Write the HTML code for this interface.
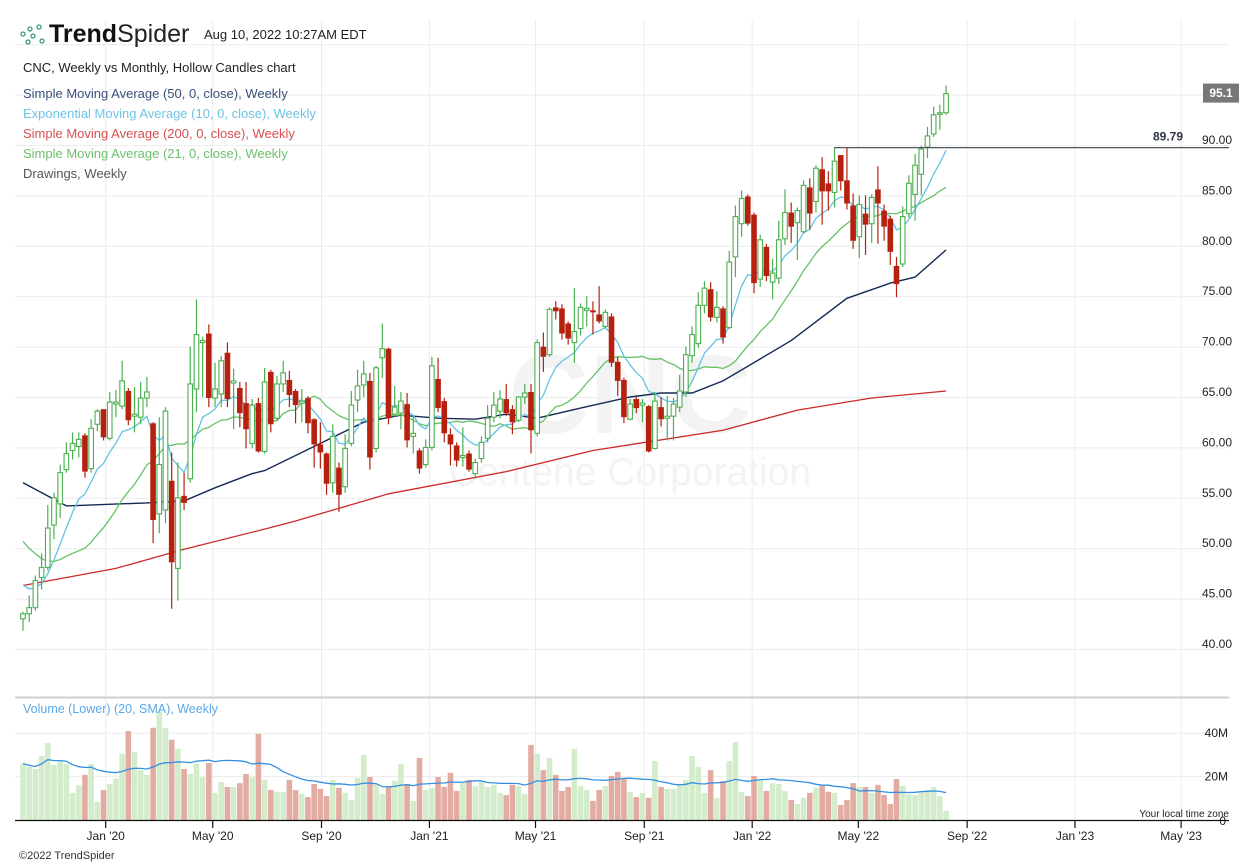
<!DOCTYPE html>
<html><head><meta charset="utf-8"><style>
html,body{margin:0;padding:0;background:#fff;}
body{width:1259px;height:866px;position:relative;overflow:hidden;font-family:"Liberation Sans","DejaVu Sans",sans-serif;}
.abs{position:absolute;white-space:nowrap;}
.leg{font-size:13px;left:23px;}
</style></head><body>
<svg id="chart" width="1259" height="866" style="position:absolute;left:0;top:0" xmlns="http://www.w3.org/2000/svg"></svg>

<div class="abs" style="left:19px;top:22px;height:26px;">
  <svg width="30" height="26"><g fill="none" stroke="#3a9a7a" stroke-width="1.3"><circle cx="4" cy="12" r="2"/><circle cx="11" cy="7" r="2"/><circle cx="14" cy="14" r="2"/><circle cx="9" cy="20" r="2"/><circle cx="20" cy="5" r="2"/><circle cx="23" cy="19" r="2"/></g></svg>
  <span style="position:absolute;left:30px;top:-2px;font-size:25px;color:#111;"><b>Trend</b><span style="font-weight:300;color:#222">Spider</span></span>
</div>
<div class="abs" style="left:204px;top:27px;font-size:13px;color:#222;">Aug 10, 2022 10:27AM EDT</div>
<div class="abs leg" style="top:60px;color:#222;">CNC, Weekly vs Monthly, Hollow Candles chart</div>
<div class="abs leg" style="top:86px;color:#3b5079;">Simple Moving Average (50, 0, close), Weekly</div>
<div class="abs leg" style="top:106px;color:#6cc4e4;">Exponential Moving Average (10, 0, close), Weekly</div>
<div class="abs leg" style="top:126px;color:#d55050;">Simple Moving Average (200, 0, close), Weekly</div>
<div class="abs leg" style="top:146px;color:#6cc06c;">Simple Moving Average (21, 0, close), Weekly</div>
<div class="abs leg" style="top:166px;color:#555;">Drawings, Weekly</div>
<div class="abs" style="left:23px;top:702px;font-size:12.5px;color:#5aa8e8;">Volume (Lower) (20, SMA), Weekly</div>
<div class="abs" style="left:19px;top:850px;font-size:11px;color:#333;">©2022 TrendSpider</div>

<script>
const openP=[42.5,43.0,43.6,46.6,47.6,51.8,53.9,57.3,59.2,59.6,60.7,57.4,61.8,63.3,60.4,63.8,63.6,65.1,62.6,62.5,64.4,61.9,52.9,53.3,56.2,47.5,54.7,56.4,65.3,69.9,70.8,64.4,64.8,68.9,65.9,65.4,63.9,59.9,63.9,59.1,67.0,62.4,65.8,66.2,65.1,63.9,64.4,62.3,59.8,58.9,56.0,57.5,55.6,59.9,64.2,65.7,66.1,59.4,68.4,69.3,62.8,62.9,63.8,60.6,59.2,57.8,59.5,66.3,64.1,60.8,59.7,58.5,58.9,56.9,58.4,60.4,62.5,63.1,64.3,63.3,62.2,64.5,65.0,60.9,69.5,68.7,73.4,73.3,71.8,69.9,71.3,73.1,73.1,72.7,71.5,72.5,68.0,66.2,62.3,64.3,63.7,63.6,59.4,63.5,62.4,62.6,63.5,65.0,68.6,69.8,73.6,75.2,72.4,73.3,71.4,78.4,81.7,84.4,82.6,76.2,79.4,75.9,76.3,80.2,82.8,81.8,80.9,85.3,83.9,87.1,85.7,84.8,88.5,86.0,83.5,80.4,82.7,81.7,85.1,83.0,82.2,77.5,77.7,82.7,84.6,86.6,89.3,90.6,92.6,92.7];
const closeP=[43.0,43.6,46.3,47.6,51.5,54.5,57.0,58.9,59.9,60.3,57.1,61.4,63.1,60.5,64.0,64.0,66.1,62.2,62.8,64.4,65.0,52.3,57.8,63.1,48.1,54.5,54.0,65.8,70.7,70.1,64.4,65.3,68.1,64.3,66.1,62.9,61.3,63.7,59.1,66.0,61.8,65.8,66.9,64.7,63.7,64.1,61.9,59.8,59.0,55.9,60.6,54.8,59.4,63.7,65.6,66.8,58.5,67.4,69.3,62.4,63.5,64.1,60.2,60.9,57.4,59.5,67.6,63.4,60.9,59.8,58.2,58.7,57.3,58.0,60.0,62.4,63.7,64.3,62.9,62.0,64.5,64.9,61.2,69.9,68.5,73.2,73.0,70.8,70.3,71.0,73.4,73.3,72.9,72.0,72.9,67.9,66.1,62.5,63.8,63.4,63.9,59.1,64.1,62.3,62.6,63.8,65.1,68.7,70.7,73.6,75.3,72.4,73.4,70.4,77.9,82.4,84.2,81.7,75.8,80.1,76.5,76.8,80.1,82.8,81.4,83.0,85.5,82.7,87.2,84.9,84.9,87.9,85.9,83.7,80.0,83.6,81.6,84.3,83.7,81.4,78.9,75.7,82.4,85.7,87.5,89.1,90.4,92.5,92.7,94.6];
const highP=[43.2,44.8,46.8,49.0,53.8,55.0,57.8,60.0,61.0,61.0,60.9,62.3,63.3,63.3,65.0,65.2,68.1,65.4,65.5,66.0,66.5,62.0,62.5,63.5,59.0,58.0,57.0,69.5,74.2,70.5,71.7,67.9,68.6,69.9,67.3,66.0,66.0,64.3,64.4,67.4,67.2,66.6,68.1,67.1,65.3,65.3,64.6,62.4,62.0,59.0,61.8,58.0,60.8,65.1,67.2,68.1,66.9,67.6,71.8,69.4,65.6,65.0,64.9,62.6,59.4,60.3,68.5,68.4,64.4,61.4,60.0,61.5,59.2,58.4,60.6,63.7,65.0,65.2,65.8,63.7,64.6,65.8,65.8,70.2,70.9,73.4,74.0,73.7,72.0,75.3,73.8,74.5,74.0,75.5,73.2,72.8,68.5,66.4,64.3,64.5,64.3,63.7,65.0,64.5,64.6,64.4,66.7,69.5,71.5,74.9,76.0,75.9,75.0,73.5,79.0,83.5,85.0,84.6,82.8,80.6,79.7,78.2,82.0,85.1,83.8,83.3,86.0,86.2,87.5,88.3,86.9,89.3,88.5,89.3,84.7,84.5,84.5,84.6,87.4,83.6,82.5,78.4,83.4,86.5,88.6,89.4,91.3,93.3,93.5,95.4];
const lowP=[41.3,42.2,43.3,45.4,47.3,50.4,52.5,57.0,58.3,58.5,56.5,57.0,61.1,60.2,60.2,62.5,63.3,61.7,61.0,61.8,63.5,50.0,51.0,52.0,43.5,44.3,53.3,56.0,63.0,64.5,63.5,63.5,63.5,63.5,61.3,61.5,59.4,59.4,59.0,58.9,61.0,62.2,65.0,63.5,61.9,62.0,60.9,57.5,57.4,54.8,55.0,53.1,55.0,59.6,63.0,64.5,57.3,59.0,66.4,61.8,62.6,61.3,59.5,58.9,56.9,57.5,59.2,63.0,60.0,57.7,57.6,57.6,57.1,56.4,58.0,60.0,62.0,62.4,62.6,60.8,62.0,63.8,58.9,60.6,67.0,68.5,72.2,70.2,69.7,67.9,70.6,71.5,70.7,71.8,71.3,67.5,64.6,61.9,62.2,62.9,62.0,59.0,59.3,61.6,60.2,60.2,63.0,64.5,67.9,69.4,72.8,72.0,71.9,69.8,71.2,76.4,80.4,81.5,74.8,75.4,76.0,74.2,75.7,79.6,79.8,78.1,80.7,81.1,82.8,81.6,83.0,83.3,85.0,83.1,79.2,78.3,78.6,79.8,79.7,80.0,77.6,74.4,77.4,82.3,82.0,84.5,88.2,90.3,91.0,92.5];
const volumeM=[26,24.5,23.5,29.5,35.5,25.4,26.8,25.7,12.5,16,20.8,25.8,8.3,13.8,16.6,19,30.5,41,31.4,23,20.8,42.5,50,42.5,37,32.8,23.5,21.2,25.8,19.8,26.3,12.5,17.5,15.2,15.2,17,21.2,19.8,39.7,18.5,13.8,13,13,18.5,13.8,12,10.6,16.6,14.3,11,18.5,14.8,12.5,9.2,19.4,30,19.8,16.6,12,15.7,18,25.8,16.6,8.8,28.6,13.8,14.8,19.8,15.2,21.7,13.4,17.5,18.5,15.5,18,15.2,16.2,12.5,11.5,16.2,15.7,12,34.6,30.5,23,28.6,20.8,13.4,15.2,32.8,15.7,13.8,8.8,13.8,15.7,20.3,22.2,18.9,13,10.6,12.5,10.2,27.2,15.2,14.3,14.3,16.2,18.5,29.5,24.5,12.5,23,10.2,18,27.2,36,13,11,20.3,18.9,13.4,17,16.6,13.4,9.2,7.4,10.2,12.5,14.8,15.7,13,12.5,6.9,9.2,17,15.2,15.2,12.5,16.2,11.5,7.4,18.9,15.7,12,11.5,13.4,13.8,15.2,11,4.2];
const sma21Prehistory=[58,57.5,58,56.5,55,53,52,54,55,51.5,49,47,46.5,46,45,44.5,46,47,45,44];
const ema10Seed=46.5;
const sma50Pts=[[0,56.0],[7,53.7],[20,54.0],[26,54.2],[31,55.5],[37,56.9],[39,57.2],[48,59.9],[55,62.0],[61,62.7],[67,62.4],[73,62.3],[78,62.8],[83,62.4],[90,63.4],[98,64.5],[103,64.9],[108,64.9],[113,66.1],[124,70.1],[133,74.3],[140,75.8],[144,76.4],[149,79.1]];
const sma200Pts=[[0,45.8],[15,47.5],[26,49.4],[39,51.4],[44,52.2],[59,54.9],[78,57.1],[92,59.2],[113,61.2],[125,63.2],[137,64.4],[149,65.1]];
const priceTicks=[40,45,50,55,60,65,70,75,80,85,90];
const gridLevels=[40,45,50,55,60,65,70,75,80,85,90,95,100];
const dateTickLabels=["Jan '20","May '20","Sep '20","Jan '21","May '21","Sep '21","Jan '22","May '22","Sep '22","Jan '23","May '23"];
const dateTickDays=[0,121,244,366,486,609,731,851,974,1096,1216];
const volTicks=[20,40];
const drawingLevel=89.79;
const drawingStartIdx=131;
const lastPrice=95.1;

const NS="http://www.w3.org/2000/svg";
const svg=document.getElementById('chart');
function el(tag,attrs,parent){const e=document.createElementNS(NS,tag);for(const k in attrs)e.setAttribute(k,attrs[k]);(parent||svg).appendChild(e);return e;}
const yP=p=>140+(90-p)*10.08;
const GRID_OFF=5.5;
const xI=i=>23+6.195*i;
const xD=d=>105.7+d*0.8844;
const yV=v=>820-v*2.17;
const LEFT=15,RIGHT=1229;

for(const g of gridLevels){const l=el('line',{x1:LEFT,x2:RIGHT,y1:yP(g)+GRID_OFF,y2:yP(g)+GRID_OFF,stroke:'#ececec','stroke-width':1});

}
for(const d of dateTickDays){const l=el('line',{x1:xD(d),x2:xD(d),y1:20,y2:820,stroke:'#ececec','stroke-width':1});

}
for(const v of volTicks){const l=el('line',{x1:LEFT,x2:RIGHT,y1:yV(v),y2:yV(v),stroke:'#ececec','stroke-width':1});

}

const wm=el('text',{x:630,y:433,'text-anchor':'middle','font-size':112,'font-weight':'bold',fill:'#f3f3f3','font-family':'Liberation Sans, sans-serif'});
wm.textContent='CNC';


const wm2=el('text',{x:630,y:485,'text-anchor':'middle','font-size':39,fill:'#f3f3f3','font-family':'Liberation Sans, sans-serif'});
wm2.textContent='Centene Corporation';



const sep=el('line',{x1:LEFT,x2:RIGHT,y1:697.5,y2:697.5,stroke:'#cfcfcf','stroke-width':2});



for(let i=0;i<volumeM.length;i++){const up=closeP[i]>=openP[i];
const b=el('rect',{x:xI(i)-2.8,y:yV(volumeM[i]),width:5.6,height:820-yV(volumeM[i]),fill:up?'#d3edcc':'#e3aca2'});

}
{let pts=[];for(let i=0;i<volumeM.length;i++){const s=Math.max(0,i-19);let sum=0;for(let j=s;j<=i;j++)sum+=volumeM[j];pts.push(xI(i).toFixed(1)+','+yV(sum/(i-s+1)).toFixed(1));}
const l=el('polyline',{points:pts.join(' '),fill:'none',stroke:'#3590e0','stroke-width':1.3});

}

function linePts(arr){return arr.map(p=>xI(p[0]).toFixed(1)+','+yP(p[1]).toFixed(1)).join(' ');}
{const l=el('polyline',{points:linePts(sma200Pts),fill:'none',stroke:'#cc2a2a','stroke-width':1.3});

}
{const l=el('polyline',{points:linePts(sma50Pts),fill:'none',stroke:'#142a55','stroke-width':1.4});

}
{const all=sma21Prehistory.concat(closeP);const pts=[];
for(let i=0;i<closeP.length;i++){let s=0;for(let j=i;j<i+21;j++)s+=all[j];pts.push([i,s/21]);}
const l=el('polyline',{points:linePts(pts),fill:'none',stroke:'#66c266','stroke-width':1.3});

}
{let e=ema10Seed;const pts=[];const a=2/11;
for(let i=0;i<closeP.length;i++){e=e+a*(closeP[i]-e);pts.push([i,e]);}
const l=el('polyline',{points:linePts(pts),fill:'none',stroke:'#62c3e6','stroke-width':1.3});

}

for(let i=0;i<openP.length;i++){const up=closeP[i]>=openP[i];const col=up?'#4caf50':'#b5210e';
const x=xI(i);const g=el('g',{});


const top=yP(Math.max(openP[i],closeP[i])),bot=yP(Math.min(openP[i],closeP[i]));
el('line',{x1:x,x2:x,y1:yP(highP[i]),y2:top,stroke:col,'stroke-width':1.2},g);
el('line',{x1:x,x2:x,y1:bot,y2:yP(lowP[i]),stroke:col,'stroke-width':1.2},g);
const h=Math.max(bot-top,1.5);
if(up)el('rect',{x:x-2.3,y:top,width:4.6,height:h,fill:'#fff',stroke:col,'stroke-width':1.1},g);
else el('rect',{x:x-2.8,y:top,width:5.6,height:h,fill:col},g);}

{const y=yP(drawingLevel)+GRID_OFF;
const l=el('line',{x1:xI(drawingStartIdx),x2:RIGHT,y1:y,y2:y,stroke:'#4a5560','stroke-width':1.3});


const t=el('text',{x:1183,y:y-7,'text-anchor':'end','font-size':12,'font-weight':'bold',fill:'#2a3340'});
t.textContent=drawingLevel.toFixed(2);

}

for(const v of priceTicks){const t=el('text',{x:1232,y:yP(v)+4,'text-anchor':'end','font-size':12,fill:'#222'});
t.textContent=v.toFixed(2);

}
{const y=yP(lastPrice)+4.5;const r=el('rect',{x:1203,y:y-9.5,width:36,height:19,fill:'#777'});


const t=el('text',{x:1221,y:y+4,'text-anchor':'middle','font-size':12,'font-weight':'bold',fill:'#fff'});
t.textContent=lastPrice.toFixed(1);

}

for(const v of volTicks){const t=el('text',{x:1228,y:yV(v)+4,'text-anchor':'end','font-size':12,fill:'#222'});
t.textContent=v+'M';

}
{const t=el('text',{x:1226,y:825,'text-anchor':'end','font-size':12,fill:'#222'});t.textContent='0';


const z=el('text',{x:1229,y:817,'text-anchor':'end','font-size':10,fill:'#222'});z.textContent='Your local time zone';

}

{const b=el('line',{x1:LEFT,x2:RIGHT,y1:820.5,y2:820.5,stroke:'#111','stroke-width':1.3});

}
for(let k=0;k<dateTickDays.length;k++){const x=xD(dateTickDays[k]);
const tk=el('line',{x1:x,x2:x,y1:820,y2:828,stroke:'#111','stroke-width':1.2});


const t=el('text',{x:x,y:840,'text-anchor':'middle','font-size':12,fill:'#222'});
t.textContent=dateTickLabels[k];

}
</script>
</body></html>
